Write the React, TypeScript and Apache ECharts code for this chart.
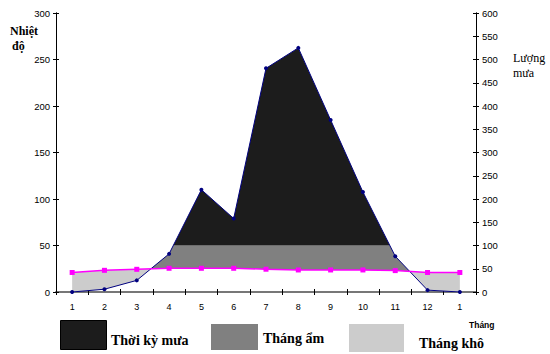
import React, { useEffect, useRef } from "react";
import * as echarts from "echarts";

// Month labels (13 points: Jan .. Dec, Jan)
const months = ["1", "2", "3", "4", "5", "6", "7", "8", "9", "10", "11", "12", "1"];
// Temperature (°C, left axis)
const temperature = [21, 23.3, 24.4, 25.5, 25.5, 25.5, 24.5, 23.7, 23.7, 23.7, 23, 21, 21];
// Rainfall (mm, right axis)
const rainfall = [0, 6, 25, 82, 220, 158, 481, 525, 370, 215, 77, 4, 0];
// Left axis ticks / right axis ticks
const tempAxis = { min: 0, max: 300, interval: 50 };
const rainAxis = { min: 0, max: 600, interval: 50 };
// Humid threshold (100 mm = 50 on temperature scale)
const humidLimitMm = 100;

const legendItems = [
  { label: "Thời kỳ mưa", color: "#1c1c1c" },
  { label: "Tháng ẩm", color: "#808080" },
  { label: "Tháng khô", color: "#cccccc" },
];

function buildRegions() {
  const ratio = tempAxis.max / rainAxis.max;
  const r = rainfall.map((v) => v * ratio);
  const t = temperature;
  const H = humidLimitMm * ratio;
  const xs: number[] = [];
  for (let i = 0; i < r.length - 1; i++) {
    const fr: number[] = [0];
    const d0 = r[i] - t[i], d1 = r[i + 1] - t[i + 1];
    if (d0 * d1 < 0) fr.push(d0 / (d0 - d1));
    const h0 = r[i] - H, h1 = r[i + 1] - H;
    if (h0 * h1 < 0) fr.push(h0 / (h0 - h1));
    fr.sort((a, b) => a - b);
    fr.forEach((f) => xs.push(i + f));
  }
  xs.push(r.length - 1);
  const at = (arr: number[], x: number) => {
    const i = Math.min(Math.floor(x), arr.length - 2);
    const f = x - i;
    return arr[i] + (arr[i + 1] - arr[i]) * f;
  };
  return xs.map((x) => {
    const rv = at(r, x);
    const tv = at(t, x);
    return { x: x + 1, r: rv, t: tv, H };
  });
}

export default function App() {
  const ref = useRef<HTMLDivElement>(null);
  useEffect(() => {
    if (!ref.current) return;
    const chart = echarts.init(ref.current, null, { renderer: "svg" });
    const regions = buildRegions();
    const axisFont = { fontFamily: "Liberation Sans", fontSize: 9.5, color: "#000" };
    const serif = "Liberation Serif";

    const yBase = (pos: "left" | "right", cfg: typeof tempAxis, inside: boolean, showLabel: boolean) => ({
      type: "value",
      position: pos,
      min: cfg.min,
      max: cfg.max,
      interval: cfg.interval,
      axisLine: { show: true, lineStyle: { color: "#000", width: 1 } },
      axisTick: { show: true, inside, length: 3, lineStyle: { color: "#000" } },
      axisLabel: { show: showLabel, ...axisFont, margin: 6 },
      splitLine: { show: false },
    });

    chart.setOption({
      animation: false,
      grid: { left: 56, right: 74, top: 13, bottom: 62, containLabel: false },
      xAxis: [
        {
          type: "category",
          data: months,
          position: "bottom",
          boundaryGap: true,
          axisLine: { lineStyle: { color: "#000", width: 1 } },
          axisTick: { show: true, inside: false, length: 3, lineStyle: { color: "#000" } },
          axisLabel: { ...axisFont, fontSize: 9, margin: 10 },
          splitLine: { show: false },
        },
        {
          type: "value",
          min: 0.5,
          max: months.length + 0.5,
          show: false,
        },
        {
          type: "category",
          data: months,
          position: "bottom",
          axisLine: { show: false },
          axisTick: { show: true, inside: true, length: 3, lineStyle: { color: "#000" } },
          axisLabel: { show: false },
        },
        {
          type: "category",
          data: months,
          position: "top",
          axisLine: { show: true, lineStyle: { color: "#777", width: 2 } },
          axisTick: { show: false },
          axisLabel: { show: false },
        },
      ],
      yAxis: [
        yBase("left", tempAxis, false, true),
        yBase("right", rainAxis, false, true),
        yBase("left", tempAxis, true, false),
        yBase("right", rainAxis, true, false),
      ],
      series: [
        {
          type: "custom",
          xAxisIndex: 1,
          yAxisIndex: 0,
          data: [[1, 0]],
          z: 1,
          renderItem: (_p: any, api: any) => {
            const poly = (upper: (d: any) => number, lower: (d: any) => number, fill: string) => {
              const up = regions.map((d) => api.coord([d.x, upper(d)]));
              const lo = regions.slice().reverse().map((d) => api.coord([d.x, lower(d)]));
              return { type: "polygon", shape: { points: up.concat(lo) }, style: { fill, stroke: null } };
            };
            return {
              type: "group",
              children: [
                poly((d) => d.t, (d) => Math.min(d.r, d.t), legendItems[2].color),
                poly((d) => Math.max(d.t, Math.min(d.r, d.H)), (d) => d.t, legendItems[1].color),
                poly((d) => Math.max(d.r, d.H), (d) => d.H, legendItems[0].color),
              ],
            };
          },
        },
        {
          type: "line",
          name: "Lượng mưa",
          xAxisIndex: 1,
          yAxisIndex: 1,
          data: rainfall.map((v, i) => [i + 1, v]),
          symbol: "circle",
          symbolSize: 4,
          lineStyle: { color: "#000080", width: 1 },
          itemStyle: { color: "#000080" },
          z: 3,
        },
        {
          type: "line",
          name: "Nhiệt độ",
          xAxisIndex: 1,
          yAxisIndex: 0,
          data: temperature.map((v, i) => [i + 1, v]),
          symbol: "rect",
          symbolSize: 5,
          lineStyle: { color: "#ff00ff", width: 1.5 },
          itemStyle: { color: "#ff00ff" },
          z: 4,
        },
      ],
      graphic: [
        { type: "text", left: 10, top: 25, style: { text: "Nhiệt", font: `bold 12px ${serif}`, fill: "#000" } },
        { type: "text", left: 12, top: 40, style: { text: "độ", font: `bold 12px ${serif}`, fill: "#000" } },
        { type: "text", left: 513, top: 52, style: { text: "Lượng", font: `12px ${serif}`, fill: "#000" } },
        { type: "text", left: 513, top: 67, style: { text: "mưa", font: `12px ${serif}`, fill: "#000" } },
        { type: "text", left: 469, top: 320, style: { text: "Tháng", font: `bold 8.5px Liberation Sans`, fill: "#000" } },
        { type: "rect", left: 60, top: 320, shape: { width: 46, height: 29 }, style: { fill: legendItems[0].color, stroke: "#000", lineWidth: 1 } },
        { type: "text", left: 111, top: 333, style: { text: legendItems[0].label, font: `bold 14px ${serif}`, fill: "#000" } },
        { type: "rect", left: 211, top: 324, shape: { width: 47, height: 26 }, style: { fill: legendItems[1].color } },
        { type: "text", left: 263, top: 331, style: { text: legendItems[1].label, font: `bold 14px ${serif}`, fill: "#000" } },
        { type: "rect", left: 349, top: 324, shape: { width: 55, height: 28 }, style: { fill: legendItems[2].color } },
        { type: "text", left: 419, top: 336, style: { text: legendItems[2].label, font: `bold 14px ${serif}`, fill: "#000" } },
      ],
    });
    return () => chart.dispose();
  }, []);
  return <div ref={ref} style={{ position: "absolute", left: 0, top: 0, width: 550, height: 354 }} />;
}
